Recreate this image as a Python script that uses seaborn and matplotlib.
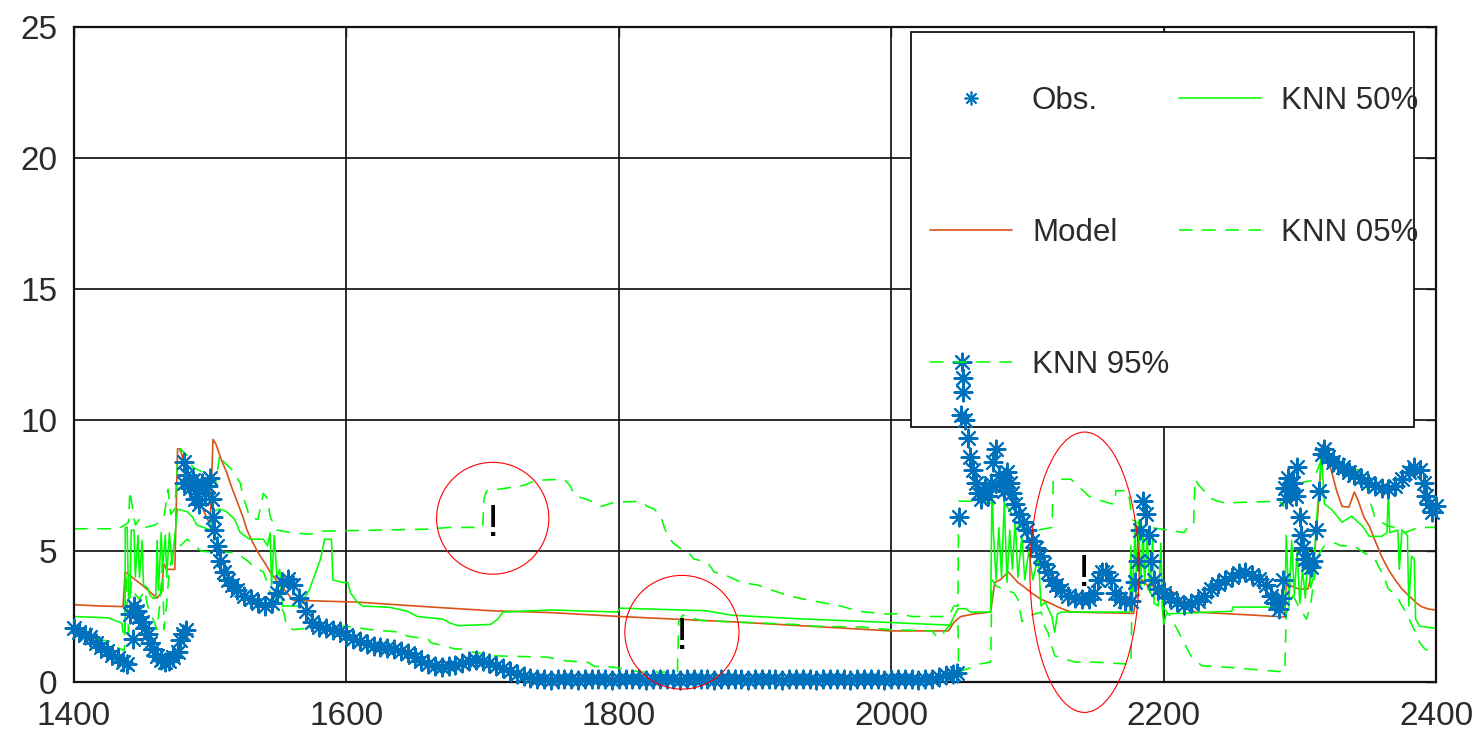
import matplotlib
matplotlib.use("Agg")
import matplotlib.pyplot as plt
import seaborn as sns
from matplotlib.lines import Line2D
from matplotlib.patches import Ellipse, Rectangle

# ---------------- data ----------------
obs_x = [1400, 1404, 1408, 1412, 1416, 1420, 1424, 1428, 1432, 1436, 1439, 1441, 1443, 1444, 1446,
         1448, 1450, 1452, 1454, 1456, 1458, 1461, 1464, 1467, 1470, 1473, 1476, 1478, 1480, 1480.5,
         1481, 1482, 1483, 1485, 1487, 1489, 1491, 1492, 1494, 1496, 1498, 1500, 1501, 1502, 1503,
         1505, 1507, 1510, 1513, 1516, 1520, 1525, 1530, 1535, 1540, 1545, 1549, 1553, 1557, 1561,
         1565, 1570, 1575, 1580, 1585, 1590, 1595, 1600, 1605, 1610, 1615, 1620, 1625, 1630, 1635,
         1640, 1645, 1650, 1655, 1660, 1665, 1670, 1675, 1680, 1685, 1690, 1695, 1700, 1705, 1710,
         1715, 1720, 1725, 1730, 1735, 1740, 1745, 1750, 1755, 1760, 1765, 1770, 1775, 1780, 1785,
         1790, 1795, 1800, 1805, 1810, 1815, 1820, 1825, 1830, 1835, 1840, 1845, 1850, 1855, 1860,
         1865, 1870, 1875, 1880, 1885, 1890, 1895, 1900, 1905, 1910, 1915, 1920, 1925, 1930, 1935,
         1940, 1945, 1950, 1955, 1960, 1965, 1970, 1975, 1980, 1985, 1990, 1995, 2000, 2005, 2010,
         2015, 2020, 2025, 2030, 2035, 2040, 2045, 2048, 2050, 2051, 2052, 2052.5, 2053, 2054, 2056,
         2058, 2060, 2062, 2064, 2066, 2069, 2071, 2073, 2075, 2077, 2079, 2081, 2083, 2085, 2087,
         2089, 2091, 2094, 2097, 2100, 2103, 2106, 2109, 2112, 2115, 2118, 2121, 2125, 2130, 2135,
         2140, 2145, 2149, 2152, 2155, 2158, 2161, 2164, 2168, 2172, 2176, 2179, 2181, 2183, 2185,
         2187, 2189, 2191, 2193, 2196, 2200, 2205, 2210, 2215, 2220, 2225, 2230, 2235, 2240, 2245,
         2250, 2255, 2260, 2265, 2270, 2275, 2279, 2282, 2285, 2287, 2288, 2289, 2290, 2291, 2293,
         2295, 2297, 2298, 2300, 2301, 2302, 2304, 2306, 2308, 2310, 2312, 2314, 2316, 2318, 2321,
         2324, 2328, 2332, 2336, 2340, 2345, 2350, 2355, 2360, 2365, 2370, 2375, 2380, 2384, 2388,
         2391, 2393, 2395, 2397, 2400]
obs_y = [2.05, 1.9, 1.78, 1.7, 1.5, 1.35, 1.18, 1.05, 0.92, 0.78, 0.7, 2.6, 1.64, 2.9, 2.7,
         2.5, 2.3, 2.05, 1.85, 1.5, 1.25, 1.0, 0.85, 0.78, 0.8, 0.95, 1.15, 1.6, 1.85, 7.6,
         8.4, 2.0, 7.9, 7.4, 7.7, 7.0, 7.4, 6.8, 7.6, 7.2, 7.5, 7.8, 7.0, 6.3, 5.8,
         5.2, 4.6, 4.2, 3.9, 3.7, 3.5, 3.3, 3.15, 3.0, 2.9, 3.0, 3.4, 3.8, 3.95, 3.7,
         3.2, 2.7, 2.3, 2.1, 2.05, 2.0, 1.95, 1.8, 1.65, 1.55, 1.45, 1.38, 1.32, 1.28, 1.25,
         1.2, 1.1, 0.95, 0.8, 0.68, 0.6, 0.58, 0.6, 0.65, 0.72, 0.8, 0.85, 0.82, 0.72, 0.62,
         0.52, 0.42, 0.32, 0.22, 0.15, 0.1, 0.1, 0.09, 0.1, 0.11, 0.1, 0.09, 0.1, 0.1, 0.11,
         0.1, 0.09, 0.1, 0.1, 0.11, 0.1, 0.09, 0.1, 0.1, 0.11, 0.1, 0.09, 0.1, 0.1, 0.11,
         0.1, 0.09, 0.1, 0.1, 0.11, 0.1, 0.09, 0.1, 0.1, 0.11, 0.1, 0.09, 0.1, 0.1, 0.11,
         0.1, 0.09, 0.1, 0.1, 0.11, 0.1, 0.09, 0.1, 0.1, 0.11, 0.1, 0.09, 0.1, 0.1, 0.11,
         0.1, 0.09, 0.1, 0.12, 0.18, 0.28, 0.32, 0.35, 6.3, 10.2, 12.2, 11.6, 11.05, 10.0, 9.3,
         8.6, 8.1, 7.6, 7.2, 7.0, 7.4, 7.1, 7.6, 8.4, 8.9, 7.9, 7.5, 7.3, 8.0, 7.6,
         7.2, 6.8, 6.4, 6.1, 5.8, 5.4, 5.1, 4.8, 4.5, 4.2, 3.9, 3.7, 3.5, 3.3, 3.2,
         3.15, 3.15, 3.4, 3.9, 4.2, 4.2, 3.9, 3.4, 3.15, 3.1, 3.1, 3.8, 4.6, 5.8, 6.9,
         6.4, 5.6, 4.6, 3.9, 3.55, 3.4, 3.2, 3.05, 2.95, 3.0, 3.1, 3.3, 3.55, 3.75, 3.9,
         4.0, 4.15, 4.2, 4.1, 3.95, 3.7, 3.3, 3.0, 2.8, 3.2, 3.9, 7.4, 7.0, 7.8, 7.3,
         7.6, 7.1, 8.2, 6.3, 5.6, 5.1, 4.7, 4.5, 4.4, 4.6, 5.8, 7.3, 8.7, 8.9, 8.6,
         8.4, 8.3, 8.2, 8.0, 7.9, 7.8, 7.6, 7.5, 7.4, 7.35, 7.5, 7.75, 8.0, 8.2, 8.1,
         7.6, 7.1, 6.8, 6.5, 6.7]

model_x = [1400, 1420, 1436, 1437.5, 1450, 1461, 1464, 1466, 1468, 1474, 1476, 1478, 1483, 1487,
           1493, 1498, 1500, 1502, 1504, 1508, 1512, 1516, 1520, 1524, 1527, 1531, 1535, 1540,
           1544, 1549, 1554, 1559, 1561, 1608, 1657, 1706, 1750, 1801, 1890, 2000, 2042, 2046,
           2051, 2061, 2073, 2076, 2080, 2086, 2093, 2097, 2103, 2110, 2117, 2123, 2132, 2178,
           2180, 2184, 2188, 2193, 2200, 2208, 2215, 2223, 2267, 2289, 2290, 2294, 2299, 2306,
           2309, 2311, 2314, 2316, 2318, 2320, 2323, 2327, 2331, 2336, 2340, 2343, 2347, 2351,
           2356, 2360, 2365, 2370, 2375, 2380, 2386, 2390, 2395, 2400]
model_y = [2.95, 2.9, 2.88, 4.2, 3.7, 3.2, 3.4, 4.5, 4.3, 4.3, 8.9, 8.9, 7.9, 7.35,
           6.8, 6.2, 6.1, 9.26, 9.1, 8.5, 8.0, 7.4, 6.85, 6.3, 5.8, 5.35, 4.95, 4.55,
           4.2, 3.85, 3.55, 3.24, 3.12, 3.05, 2.88, 2.72, 2.65, 2.5, 2.28, 1.95, 1.95, 2.28,
           2.5, 2.6, 2.67, 3.8, 3.9, 4.2, 3.8, 3.65, 3.4, 3.16, 3.0, 2.85, 2.67, 2.62,
           3.5, 3.9, 3.7, 3.66, 3.6, 3.4, 3.0, 2.67, 2.55, 2.48, 3.8, 3.66, 3.55, 3.55,
           4.2, 4.95, 7.0, 8.75, 8.88, 8.5, 8.1, 7.3, 6.7, 6.67, 7.25, 6.9, 6.3, 5.95,
           5.3, 4.8, 4.3, 3.9, 3.55, 3.3, 3.0, 2.86, 2.78, 2.75]

knn50_x = [1400, 1425, 1430, 1435, 1436, 1437.5, 1437.6, 1439, 1440, 1441, 1442, 1444, 1445, 1447,
           1448, 1450, 1451, 1454, 1456, 1458, 1460, 1461, 1462, 1464, 1465, 1467, 1468, 1470,
           1472, 1474, 1476, 1483, 1487, 1490, 1495, 1500, 1502, 1507, 1512, 1518, 1522, 1529,
           1539, 1542, 1544, 1545, 1547, 1549, 1551, 1553, 1566, 1573, 1581, 1584, 1589, 1590,
           1597, 1601, 1603, 1608, 1612, 1632, 1645, 1652, 1671, 1676, 1682, 1706, 1711, 1715,
           1750, 1799, 1801, 1864, 1883, 1930, 1995, 2043, 2046, 2049, 2055, 2058, 2073, 2074,
           2075, 2077, 2079, 2081, 2083, 2085, 2087, 2089, 2091, 2093, 2096, 2098, 2101, 2104,
           2108, 2110, 2113, 2118, 2120, 2122, 2125, 2175, 2176, 2177, 2179, 2180, 2182, 2183,
           2185, 2186, 2188, 2190, 2192, 2193, 2196, 2198, 2199, 2200, 2202, 2250, 2251, 2289,
           2290, 2292, 2294, 2296, 2298, 2300, 2302, 2304, 2306, 2308, 2310, 2312, 2316, 2318,
           2323, 2331, 2338, 2346, 2351, 2360, 2364, 2365, 2366, 2372, 2373, 2375, 2379, 2380,
           2382, 2384, 2385, 2388, 2400]
knn50_y = [2.5, 2.45, 2.35, 2.25, 1.9, 1.9, 5.9, 5.9, 3.2, 3.2, 5.8, 5.8, 4.0, 5.6,
           4.0, 5.4, 3.7, 3.6, 3.3, 3.2, 3.2, 5.4, 3.5, 5.7, 4.3, 5.6, 4.0, 5.7,
           4.5, 5.6, 6.6, 6.5, 6.3, 6.0, 5.9, 5.8, 6.5, 6.6, 6.5, 6.2, 5.7, 5.45,
           5.45, 5.2, 5.7, 3.7, 5.6, 4.0, 4.3, 2.9, 2.9, 3.55, 4.7, 5.45, 5.45, 3.9,
           3.8, 3.8, 3.4, 3.05, 2.9, 2.85, 2.7, 2.5, 2.4, 2.25, 2.15, 2.2, 2.4, 2.67,
           2.75, 2.67, 2.82, 2.72, 2.55, 2.42, 2.28, 2.17, 2.5, 2.8, 2.8, 2.67, 2.67, 7.6,
           5.7, 3.9, 5.9, 4.0, 6.9, 3.8, 5.8, 4.3, 6.2, 4.0, 5.6, 3.9, 5.0, 3.9,
           4.8, 2.9, 3.05, 2.5, 1.9, 2.6, 2.67, 2.67, 5.2, 2.9, 5.9, 4.2, 6.2, 3.6,
           5.8, 3.7, 5.6, 3.4, 5.6, 3.0, 2.9, 5.3, 2.9, 2.2, 2.6, 2.7, 2.86, 2.86,
           5.6, 3.0, 5.4, 3.3, 5.0, 3.0, 4.3, 3.2, 5.0, 3.6, 4.0, 6.0, 8.7, 6.8,
           6.6, 6.1, 6.33, 5.95, 5.56, 5.56, 5.7, 7.47, 5.7, 5.8, 4.3, 5.8, 5.6, 2.9,
           4.8, 4.7, 2.4, 2.13, 2.05]

knn95_x = [1400, 1432, 1436, 1440, 1441, 1443, 1445, 1448, 1452, 1460, 1466, 1469, 1471, 1474,
           1476, 1478, 1484, 1487, 1495, 1500, 1504, 1507, 1510, 1516, 1522, 1524, 1529, 1535,
           1539, 1542, 1544, 1549, 1559, 1573, 1583, 1657, 1676, 1700, 1701, 1703, 1711, 1730,
           1739, 1760, 1764, 1768, 1775, 1782, 1787, 1796, 1816, 1821, 1826, 1831, 1833, 1836,
           1840, 1846, 1851, 1855, 1865, 1870, 1880, 1890, 1902, 1910, 1924, 1936, 1963, 1976,
           1995, 2007, 2015, 2042, 2046, 2049, 2049.5, 2067, 2075, 2085, 2090, 2095, 2108, 2118,
           2119, 2132, 2137, 2145, 2149, 2162, 2164, 2165, 2174, 2177, 2184, 2199, 2215, 2219,
           2222, 2223, 2226, 2235, 2240, 2248, 2253, 2285, 2288, 2289, 2300, 2310, 2316, 2323,
           2331, 2337, 2343, 2345, 2349, 2351, 2355, 2360, 2365, 2370, 2377, 2382, 2387, 2400]
knn95_y = [5.85, 5.85, 5.95, 6.1, 7.3, 6.6, 6.0, 6.2, 5.9, 6.0, 6.3, 7.35, 6.4, 6.6,
           8.4, 8.9, 8.6, 8.2, 8.0, 8.0, 7.6, 8.7, 8.4, 8.1, 7.6, 7.1, 6.3, 6.2,
           7.2, 7.0, 6.3, 5.8, 5.7, 5.64, 5.76, 5.83, 5.9, 5.9, 7.0, 7.3, 7.35, 7.5,
           7.7, 7.74, 7.5, 7.1, 7.0, 6.85, 6.7, 6.85, 6.9, 6.7, 6.6, 6.3, 5.95, 5.56,
           5.3, 5.07, 4.95, 4.7, 4.57, 4.2, 4.04, 3.8, 3.7, 3.55, 3.3, 3.16, 2.9, 2.7,
           2.6, 2.6, 2.5, 2.5, 2.9, 2.9, 6.9, 6.9, 6.8, 6.7, 6.3, 5.9, 5.8, 5.9,
           7.74, 7.74, 7.5, 7.1, 7.0, 6.8, 6.8, 7.3, 7.3, 6.2, 5.95, 5.83, 5.7, 6.0,
           6.0, 7.74, 7.5, 7.0, 6.9, 6.8, 6.85, 6.9, 6.7, 7.7, 7.6, 7.7, 8.5, 8.6,
           8.3, 8.1, 8.1, 7.74, 7.5, 7.0, 6.3, 6.1, 5.95, 5.9, 5.7, 5.8, 5.9, 5.9]

knn05_x = [1400, 1407, 1426, 1429, 1434, 1437, 1438, 1440, 1442, 1444, 1448, 1452, 1454, 1458,
           1461, 1463, 1465, 1466, 1468, 1470, 1473, 1478, 1483, 1487, 1493, 1502, 1515, 1520,
           1528, 1532, 1539, 1542, 1544, 1548, 1554, 1556, 1561, 1590, 1605, 1617, 1640, 1645,
           1660, 1662, 1670, 1680, 1684, 1693, 1708, 1747, 1762, 1777, 1782, 1796, 1803, 1811,
           1818, 1843, 1844, 1847, 1860, 1890, 1929, 1943, 1978, 1998, 2030, 2033, 2036, 2040,
           2046, 2049, 2049.5, 2061, 2064, 2073, 2074, 2077, 2090, 2093, 2096, 2100, 2110, 2113,
           2115, 2120, 2135, 2149, 2176, 2177, 2182, 2188, 2193, 2199, 2205, 2210, 2215, 2220,
           2228, 2245, 2285, 2289, 2290, 2295, 2300, 2305, 2308, 2313, 2318, 2326, 2330, 2340,
           2345, 2355, 2362, 2365, 2371, 2375, 2378, 2382, 2385, 2388, 2392, 2400]
knn05_y = [1.8, 1.7, 1.56, 1.37, 1.26, 1.2, 4.2, 1.9, 3.8, 3.4, 3.16, 3.5, 2.9, 2.4,
           2.0, 3.0, 4.5, 2.0, 3.0, 4.3, 5.0, 5.2, 5.45, 5.3, 5.0, 4.95, 4.95, 4.9,
           4.6, 4.4, 4.2, 3.8, 3.4, 3.16, 2.67, 2.13, 2.0, 2.15, 2.1, 2.0, 1.9, 1.75,
           1.64, 1.5, 1.4, 1.26, 1.26, 1.14, 1.0, 0.95, 0.8, 0.76, 0.6, 0.57, 0.5, 0.42,
           0.38, 0.38, 2.3, 2.55, 2.35, 2.28, 2.2, 2.13, 2.1, 2.0, 1.95, 1.75, 1.7, 2.0,
           2.3, 2.3, 0.38, 0.6, 0.68, 0.76, 3.9, 3.66, 3.4, 3.16, 2.3, 2.5, 2.67, 2.1,
           1.9, 1.0, 0.76, 0.76, 0.68, 3.6, 3.3, 3.6, 3.2, 2.9, 2.5, 2.0, 1.5, 1.0,
           0.62, 0.57, 0.4, 0.4, 2.6, 3.3, 2.8, 2.4, 3.0, 4.8, 5.2, 5.3, 5.2, 5.2,
           5.0, 4.7, 4.0, 3.55, 3.3, 2.9, 2.67, 2.2, 1.9, 1.5, 1.25, 1.1]

x_ticks = [1400, 1600, 1800, 2000, 2200, 2400]
y_ticks = [0, 5, 10, 15, 20, 25]
legend_labels = ["Obs.", "Model", "KNN 95%", "KNN 50%", "KNN 05%"]

# ---------------- style ----------------
BLUE = "#0072BD"
ORANGE = "#D95319"
GREEN = "#00FF00"
TEXT = "#2b2b2b"
STAR = (8, 2, 0)
DASH = (8.5, 6)

sns.set_theme(style="white")
plt.rcParams["font.family"] = ["Liberation Sans", "DejaVu Sans"]

fig = plt.figure(figsize=(14.78, 7.31), dpi=100)
ax = fig.add_axes([0.0501, 0.0670, 0.9215, 0.8961])
ax.set_axisbelow(True)

# model and KNN quantile curves
sns.lineplot(x=model_x, y=model_y, ax=ax, color=ORANGE, linewidth=1.2,
             sort=False, estimator=None, errorbar=None)
sns.lineplot(x=knn50_x, y=knn50_y, ax=ax, color=GREEN, linewidth=1.15,
             sort=False, estimator=None, errorbar=None)
sns.lineplot(x=knn05_x, y=knn05_y, ax=ax, color=GREEN, linewidth=1.15,
             sort=False, estimator=None, errorbar=None)
ax.lines[-1].set_dashes(DASH)
sns.lineplot(x=knn95_x, y=knn95_y, ax=ax, color=GREEN, linewidth=1.15,
             sort=False, estimator=None, errorbar=None)
ax.lines[-1].set_dashes(DASH)

# observations
sns.scatterplot(x=obs_x, y=obs_y, ax=ax, marker=STAR, s=165, color=BLUE,
                edgecolor=BLUE, linewidth=1.5, zorder=3, clip_on=False)

ax.set_xlim(1400, 2400)
ax.set_ylim(0, 25)
ax.set_xticks(x_ticks)
ax.set_yticks(y_ticks)
ax.set_xticklabels([str(v) for v in x_ticks])
ax.set_yticklabels([str(v) for v in y_ticks])
ax.set_xlabel("")
ax.set_ylabel("")
ax.grid(True, color="#151515", linewidth=1.25)
ax.tick_params(direction="in", length=7, width=1, top=True, right=True,
               labelsize=24, labelcolor=TEXT, color="#1a1a1a")
ax.tick_params(axis="x", pad=14)
ax.tick_params(axis="y", pad=12)
for sp in ax.spines.values():
    sp.set_color("#111111")
    sp.set_linewidth(1.6)

# legend box (opaque, below the observation markers)
ax.add_patch(Rectangle((0.6145, 0.3893), 0.3693, 0.6031, transform=ax.transAxes,
                       facecolor="white", edgecolor="#111111", linewidth=1.3, zorder=1.8))
handles = [
    Line2D([], [], linestyle="none", marker=STAR, markersize=10, markeredgewidth=1.2,
           color=BLUE),
    Line2D([], [], color=ORANGE, linewidth=1.2),
    Line2D([], [], color=GREEN, linewidth=1.15, dashes=DASH),
    Line2D([], [], color=GREEN, linewidth=1.15),
    Line2D([], [], color=GREEN, linewidth=1.15, dashes=DASH),
]
leg = ax.legend(handles=handles, labels=legend_labels, ncol=2, loc="upper left",
                bbox_to_anchor=(0.6285, 0.910), frameon=False, fontsize=22.5,
                handlelength=2.62, handletextpad=0.64, columnspacing=0.31,
                labelspacing=3.26, borderpad=0, borderaxespad=0)
for t in leg.get_texts():
    t.set_color(TEXT)

# highlighted spots
ax.add_patch(Ellipse((1707.4, 6.25), 82.4, 4.27, fill=False, edgecolor="red",
                     linewidth=0.8, zorder=4))
ax.add_patch(Ellipse((1846.3, 1.9), 83.8, 4.34, fill=False, edgecolor="red",
                     linewidth=0.8, zorder=4, clip_on=False))
ax.add_patch(Ellipse((2141.9, 4.19), 80.1, 10.7, fill=False, edgecolor="red",
                     linewidth=0.8, zorder=4, clip_on=False))
for (tx, ty) in [(1707.4, 5.56), (1846.8, 1.26), (2141.7, 3.66)]:
    ax.text(tx, ty, "!", fontsize=32, ha="center", va="baseline", color="black", zorder=6)

fig.savefig("out.png", dpi=100, facecolor="white")
